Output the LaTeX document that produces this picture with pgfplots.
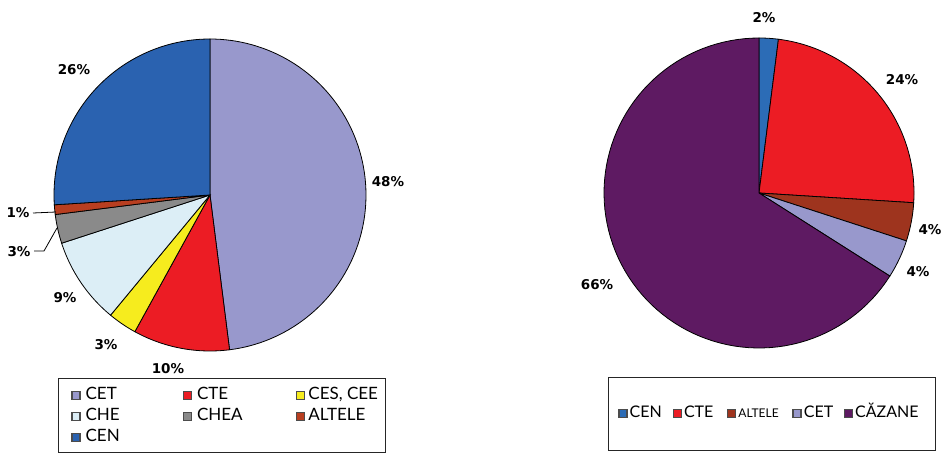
\documentclass[border=0pt]{standalone}
\usepackage{pgfplots}
\pgfplotsset{compat=1.18}
\usepackage{fontspec}
\setmainfont{Lato}
\newfontfamily\pctfont{DejaVu Sans}
\definecolor{cet}{RGB}{152,152,204}
\definecolor{cte}{RGB}{236,28,36}
\definecolor{ces}{RGB}{246,236,30}
\definecolor{che}{RGB}{220,238,246}
\definecolor{chea}{RGB}{138,138,138}
\definecolor{altL}{RGB}{184,62,32}
\definecolor{cenL}{RGB}{42,98,176}
\definecolor{cenR}{RGB}{44,108,182}
\definecolor{altR}{RGB}{158,52,30}
\definecolor{caz}{RGB}{94,26,98}
% #1 cx, #2 cy, #3 r, #4 cumulative start (%), #5 share (%), #6 colour
\newcommand{\pieslice}[6]{%
  \addplot[draw=black, line width=0.8pt, fill=#6, domain=90-3.6*(#4+#5):90-3.6*#4, samples=90, variable=\t]
    ({#1+#3*cos(\t)}, {#2+#3*sin(\t)}) -- (axis cs:#1,#2) -- cycle;}
\newcommand{\pct}{\pctfont\bfseries\fontsize{13.5}{15}\selectfont}
\pgfplotsset{
  pieaxis/.style={at={(0pt,0pt)}, anchor=origin, hide axis, scale only axis,
    x=1pt, y=1pt, xmin=0, xmax=944, ymin=0, ymax=453, clip=false,
    legend image code/.code={\draw[##1, draw=black!70, line width=1.4pt] (0pt,-4pt) rectangle (8pt,4pt);},
    legend cell align=left,
    legend style={draw=none, fill=none, anchor=north west, inner sep=0pt,
      column sep=0pt, row sep=0pt, font=\fontsize{16}{19}\selectfont,
      nodes={inner xsep=2pt, inner ysep=3pt, text height=12pt, text depth=3pt}},
  }
}
\begin{document}
\begin{tikzpicture}
\useasboundingbox (0,0) rectangle (944pt,453pt);
% ---------- left pie ----------
\begin{axis}[pieaxis, legend columns=3, legend style={at={(axis cs:71,68.5)}, font=\fontsize{17}{20}\selectfont}]
\pieslice{210}{258}{156}{0}{48}{cet}
\addlegendentry{\makebox[98pt][l]{\hspace{3pt}CET}}
\pieslice{210}{258}{156}{48}{10}{cte}
\addlegendentry{\makebox[100pt][l]{\hspace{3pt}CTE}}
\pieslice{210}{258}{156}{58}{3}{ces}
\addlegendentry{\hspace{1pt}CES, CEE}
\pieslice{210}{258}{156}{61}{9}{che}
\addlegendentry{\makebox[98pt][l]{\hspace{3pt}CHE}}
\pieslice{210}{258}{156}{70}{3}{chea}
\addlegendentry{\makebox[100pt][l]{\hspace{3pt}CHEA}}
\pieslice{210}{258}{156}{73}{1}{altL}
\addlegendentry{\hspace{1pt}ALTELE}
\pieslice{210}{258}{156}{74}{26}{cenL}
\addlegendentry{\makebox[98pt][l]{\hspace{3pt}CEN}}
\node[font=\pct] at (axis cs:74,383) {26\%};
\node[font=\pct] at (axis cs:388,271) {48\%};
\node[font=\pct, anchor=east] at (axis cs:33,240) {1\%};
\node[font=\pct, anchor=east] at (axis cs:34,201) {3\%};
\node[font=\pct] at (axis cs:65,155) {9\%};
\node[font=\pct] at (axis cs:106,108) {3\%};
\node[font=\pct] at (axis cs:168,84) {10\%};
\draw[line width=0.8pt] (axis cs:33,240) -- (axis cs:56,241);
\draw[line width=0.8pt] (axis cs:34,202) -- (axis cs:44,202) -- (axis cs:57,225);
\draw[line width=1pt, black!85] (axis cs:58,75) rectangle (axis cs:385,1);
\end{axis}
% ---------- right pie ----------
\begin{axis}[pieaxis, legend columns=5, legend style={at={(axis cs:618,50.5)}}]
\pieslice{759}{260}{155}{0}{2}{cenR}
\addlegendentry{\makebox[41pt][l]{CEN}}
\pieslice{759}{260}{155}{2}{24}{cte}
\addlegendentry{\makebox[41pt][l]{CTE}}
\pieslice{759}{260}{155}{26}{4}{altR}
\addlegendentry{\makebox[52pt][l]{\fontsize{12}{14}\selectfont ALTELE}}
\pieslice{759}{260}{155}{30}{4}{cet}
\addlegendentry{\makebox[38pt][l]{CET}}
\pieslice{759}{260}{155}{34}{66}{caz}
\addlegendentry{CĂZANE}
\node[font=\pct] at (axis cs:764,435) {2\%};
\node[font=\pct] at (axis cs:902,373) {24\%};
\node[font=\pct] at (axis cs:930,223) {4\%};
\node[font=\pct] at (axis cs:918,181) {4\%};
\node[font=\pct] at (axis cs:597,168) {66\%};
\draw[line width=1pt, black!85] (axis cs:608,76) rectangle (axis cs:935,3);
\end{axis}
\end{tikzpicture}
\end{document}
